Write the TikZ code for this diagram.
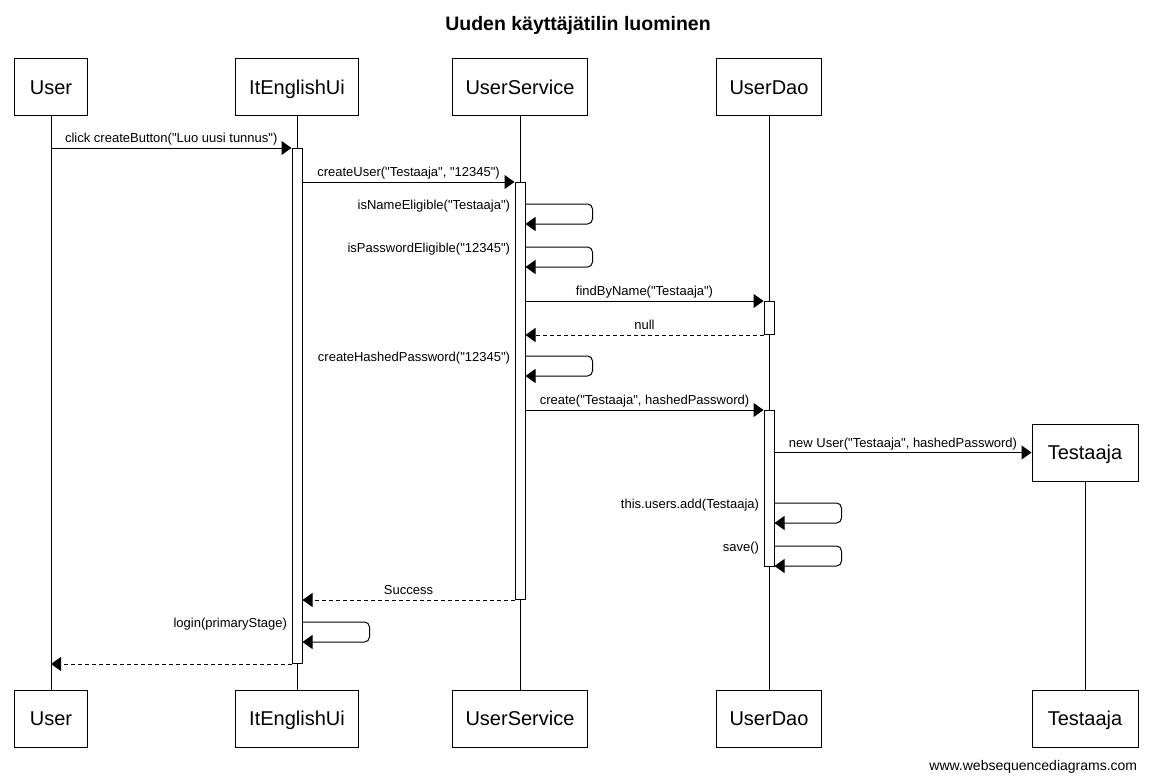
\documentclass[tikz,border=0pt]{standalone}
\usepackage{fontspec}
\setmainfont{Liberation Sans}
\newfontfamily\seqfont{Liberation Sans}
\usetikzlibrary{arrows.meta}

\begin{document}
\begin{tikzpicture}
[x=1pt,y=-1pt,line width=1pt,
 actor/.style={draw,fill=white,minimum height=57pt,inner xsep=13.5pt,
               text height=14.3pt,text depth=0pt,
               font=\seqfont\fontsize{20}{24}\selectfont},
 activation/.style={draw,fill=white,minimum width=10pt,inner sep=0pt,
                    anchor=north},
 msg/.style={-{Triangle[length=10pt,width=14pt]}},
 reply/.style={msg,dash pattern=on 4pt off 3pt},
 selfmsg/.style={msg,rounded corners=5pt},
 lbl/.style={font=\seqfont\fontsize{13}{15}\selectfont,text height=9.5pt,
             text depth=2.7pt,inner sep=2pt}]
\useasboundingbox (0,0) rectangle (1153,781);
\node[anchor=base,font=\seqfont\bfseries\fontsize{19.5}{23}\selectfont] (title)
  at (578,31) {Uuden käyttäjätilin luominen};
% participants
\node[actor,minimum width=73pt] (user) at (51,87.5) {User};
\node[actor] (ui) at (297,87.5) {ItEnglishUi};
\node[actor] (service) at (520,87.5) {UserService};
\node[actor] (dao) at (769,87.5) {UserDao};
\node[actor,minimum width=73pt] (userb) at (51,718.5) {User};
\node[actor] (uib) at (297,718.5) {ItEnglishUi};
\node[actor] (serviceb) at (520,718.5) {UserService};
\node[actor] (daob) at (769,718.5) {UserDao};
\node[actor,minimum width=106pt] (testaaja) at (1085,452.5) {Testaaja};
\node[actor,minimum width=106pt] (testaajab) at (1085,718.5) {Testaaja};
\draw (user) -- (userb);
\draw (ui) -- (uib);
\draw (service) -- (serviceb);
\draw (dao) -- (daob);
\draw (testaaja) -- (testaajab);
% activations
\node[activation,minimum height=515pt] (uiact) at (297,148) {};
\node[activation,minimum height=417pt] (serviceact) at (520,182) {};
\node[activation,minimum height=33pt] (daoact) at (769,301) {};
\node[activation,minimum height=156pt] (daoactb) at (769,410) {};
% messages
\draw[msg] (user |- uiact.north) --
  node[lbl,above] {click createButton("Luo uusi tunnus")} (uiact.north west);
\draw[msg] (uiact.east |- serviceact.north) --
  node[lbl,above] {createUser("Testaaja", "12345")} (serviceact.north west);
\draw[selfmsg] (serviceact.east |- 0,204) -- ++(67,0) -- ++(0,20) -- ++(-67,0);
\node[lbl,left,inner xsep=4pt] (namecheck) at (serviceact.west |- 0,206)
  {isNameEligible("Testaaja")};
\draw[selfmsg] (serviceact.east |- 0,247) -- ++(67,0) -- ++(0,20) -- ++(-67,0);
\node[lbl,left,inner xsep=4pt] (passcheck) at (serviceact.west |- 0,249)
  {isPasswordEligible("12345")};
\draw[msg] (serviceact.east |- daoact.north) --
  node[lbl,above] {findByName("Testaaja")} (daoact.north west);
\draw[reply] (daoact.south west) --
  node[lbl,above] {null} (serviceact.east |- daoact.south);
\draw[selfmsg] (serviceact.east |- 0,356) -- ++(67,0) -- ++(0,20) -- ++(-67,0);
\node[lbl,left,inner xsep=4pt] (hashing) at (serviceact.west |- 0,358)
  {createHashedPassword("12345")};
\draw[msg] (serviceact.east |- daoactb.north) --
  node[lbl,above] {create("Testaaja", hashedPassword)} (daoactb.north west);
\draw[msg] (daoactb.east |- testaaja) --
  node[lbl,above] {new User("Testaaja", hashedPassword)} (testaaja);
\draw[selfmsg] (daoactb.east |- 0,503) -- ++(67,0) -- ++(0,20) -- ++(-67,0);
\node[lbl,left,inner xsep=4pt] (adding) at (daoactb.west |- 0,505)
  {this.users.add(Testaaja)};
\draw[selfmsg] (daoactb.east |- 0,546) -- ++(67,0) -- ++(0,20) -- ++(-67,0);
\node[lbl,left,inner xsep=4pt] (saving) at (daoactb.west |- 0,548) {save()};
\draw[reply] (serviceact.south west) --
  node[lbl,above] {Success} (uiact.east |- serviceact.south);
\draw[selfmsg] (uiact.east |- 0,622) -- ++(67,0) -- ++(0,20) -- ++(-67,0);
\node[lbl,left,inner xsep=4pt] (login) at (uiact.west |- 0,624)
  {login(primaryStage)};
\draw[reply] (uiact.south west) -- (user |- uiact.south);
\node[anchor=base east,font=\seqfont\fontsize{14}{16}\selectfont] (footer)
  at (1141,770) {www.websequencediagrams.com};
\end{tikzpicture}
\end{document}
